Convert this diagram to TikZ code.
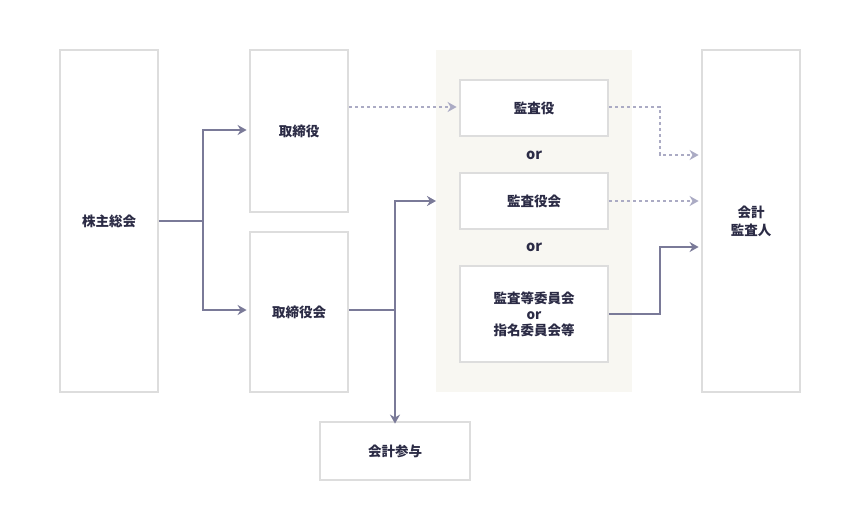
\documentclass[tikz,border=0pt]{standalone}
\usepackage{fontspec}
\setmainfont{Noto Sans CJK JP}
\usetikzlibrary{arrows.meta}
\definecolor{bx}{HTML}{DDDDDD}
\definecolor{ar}{HTML}{7A7A98}
\definecolor{dar}{HTML}{ABABC4}
\definecolor{pan}{HTML}{F8F7F2}
\definecolor{tx}{HTML}{2B2B45}
\tikzset{
 box/.style={draw=bx,line width=2.8pt,fill=white,text=tx,font=\fontsize{13.5}{18}\selectfont\bfseries,align=center,inner sep=0pt},
 sol/.style={draw=ar,line width=2.8pt,-{Stealth[length=9pt,width=10pt]}},
 dot/.style={draw=dar,line width=2.8pt,dash pattern=on 3pt off 3pt,-{Stealth[length=9pt,width=10pt]}},
 ortxt/.style={text=tx,font=\fontsize{14.5}{16}\selectfont\bfseries}
}
\begin{document}
\begin{tikzpicture}[x=1pt,y=-1pt]
\useasboundingbox (0,0) rectangle (860,530);
\fill[pan] (436,50) rectangle (632,392);
\node[box,minimum width=98pt,minimum height=342pt] (kabu) at (109,221) {株主総会};
\node[box,minimum width=98pt,minimum height=162pt] (tori) at (299,131) {取締役};
\node[box,minimum width=98pt,minimum height=160pt] (torik) at (299,312) {取締役会};
\node[box,minimum width=148pt,minimum height=56pt] (kan) at (534,108) {監査役};
\node[box,minimum width=148pt,minimum height=56pt] (kank) at (534,201) {監査役会};
\node[box,minimum width=148pt,minimum height=96pt] (kant) at (534,314) {監査等委員会\\[-2pt]or\\[-2pt]指名委員会等};
\node[box,minimum width=98pt,minimum height=342pt] (kai) at (751,221) {会計\\監査人};
\node[box,minimum width=150pt,minimum height=58pt] (san) at (395,451) {会計参与};
\node[ortxt] (or1) at (534,155) {or};
\node[ortxt] (or2) at (534,247) {or};
\coordinate (pa) at (436,201);
\coordinate (j1) at (203,221);
\draw[sol] (kabu.east) -- (j1) |- ([xshift=-2pt]tori.west |- 0,130);
\draw[sol] (j1) |- ([xshift=-2pt]torik.west |- 0,310);
\draw[sol] (torik.east |- 0,310) -- (395,310) |- (pa);
\draw[sol] (395,310) -- ([yshift=-3pt]san.north);
\draw[dot] (tori.east |- 0,107) -- ([xshift=-2pt]kan.west |- 0,107);
\draw[dot] (kan.east |- 0,107) -- (660,107) |- ([xshift=-2pt]kai.west |- 0,155);
\draw[dot] (kank.east) -- ([xshift=-2pt]kai.west |- 0,201);
\draw[sol] (kant.east) -- (660,314) |- ([xshift=-2pt]kai.west |- 0,247);
\end{tikzpicture}
\end{document}
